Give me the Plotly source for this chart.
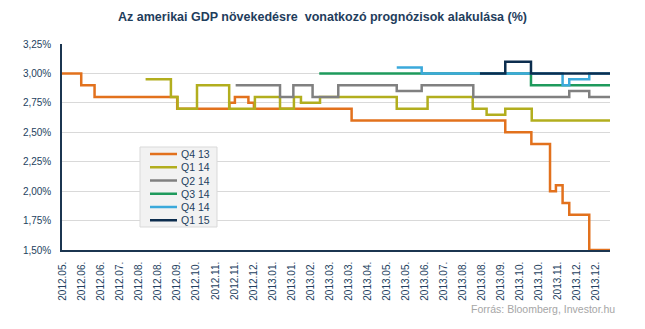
import plotly.graph_objects as go

# ---------------- data ----------------
tick_labels = ["2012.05.", "2012.06.", "2012.06.", "2012.07.", "2012.08.", "2012.08.",
               "2012.09.", "2012.10.", "2012.11.", "2012.11.", "2012.12.", "2013.01.",
               "2013.01.", "2013.02.", "2013.03.", "2013.03.", "2013.04.", "2013.05.",
               "2013.05.", "2013.06.", "2013.07.", "2013.08.", "2013.08.", "2013.09.",
               "2013.10.", "2013.10.", "2013.11.", "2013.12.", "2013.12."]

y_ticks = [1.50, 1.75, 2.00, 2.25, 2.50, 2.75, 3.00, 3.25]
y_tick_labels = ["1,50%", "1,75%", "2,00%", "2,25%", "2,50%", "2,75%", "3,00%", "3,25%"]

x_end = 28.73

# step change points (x in tick-index units) and forecast values (%)
q4_13_x = [-0.05, 0.96, 1.66, 6.00, 8.74, 9.03, 9.74, 10.03, 15.16, 23.23, 24.60,
           25.58, 25.89, 26.24, 26.59, 27.64, x_end]
q4_13_y = [3.00, 2.90, 2.80, 2.70, 2.75, 2.80, 2.75, 2.70, 2.60, 2.50, 2.40,
           2.00, 2.05, 1.90, 1.80, 1.50, 1.50]

q1_14_x = [4.34, 5.67, 6.02, 7.04, 8.73, 10.08, 11.40, 12.13, 12.50, 13.50, 17.53,
           19.15, 21.52, 22.25, 23.23, 24.62, x_end]
q1_14_y = [2.95, 2.80, 2.70, 2.90, 2.70, 2.80, 2.70, 2.80, 2.75, 2.80, 2.70,
           2.80, 2.70, 2.65, 2.70, 2.60, 2.60]

q2_14_x = [9.07, 11.40, 12.10, 13.11, 14.46, 17.53, 18.84, 21.55, 26.59, 27.64, x_end]
q2_14_y = [2.90, 2.80, 2.90, 2.80, 2.90, 2.85, 2.90, 2.80, 2.85, 2.80, 2.80]

q3_14_x = [13.46, 24.58, x_end]
q3_14_y = [3.00, 2.90, 2.90]

q4_14_x = [17.53, 18.84, 26.24, 26.59, 27.64, x_end]
q4_14_y = [3.05, 3.00, 2.90, 2.95, 3.00, 3.00]

q1_15_x = [21.90, 23.23, 24.58, x_end]
q1_15_y = [3.00, 3.10, 3.00, 3.00]

series_names = ["Q4 13", "Q1 14", "Q2 14", "Q3 14", "Q4 14", "Q1 15"]
series_x = [q4_13_x, q1_14_x, q2_14_x, q3_14_x, q4_14_x, q1_15_x]
series_y = [q4_13_y, q1_14_y, q2_14_y, q3_14_y, q4_14_y, q1_15_y]
series_colors = ["#E2711D", "#B2AE1E", "#808080", "#1E9A5C", "#3BA9DB", "#0C2D4E"]

title_text = "Az amerikai GDP növekedésre  vonatkozó prognózisok alakulása (%)"
source_text = "Forrás: Bloomberg, Investor.hu"

# ---------------- layout constants ----------------
W, H = 645, 329
ML, MR, MT, MB = 62, 35, 44, 79
PW, PH = W - ML - MR, H - MT - MB
TEXT_COL = "#243F60"
FONT = "Liberation Sans"


def px_x(p):
    return (p - ML) / PW


def px_y(p):
    return (H - MB - p) / PH


fig = go.Figure()
for name, xs, ys, col in zip(series_names, series_x, series_y, series_colors):
    fig.add_trace(go.Scatter(x=xs, y=ys, mode="lines", name=name,
                             line=dict(color=col, width=2.5, shape="hv"),
                             showlegend=False))

# custom compact legend
shapes = []
annotations = []
lg_left, lg_right, lg_top, lg_bottom = 140, 217, 147, 227
shapes.append(dict(type="rect", xref="paper", yref="paper",
                   x0=px_x(lg_left), x1=px_x(lg_right), y0=px_y(lg_bottom), y1=px_y(lg_top),
                   fillcolor="#F2F2F2", line=dict(color="#D9D9D9", width=1), layer="above"))
row0, row_step = 154, 13.25
for i, (name, col) in enumerate(zip(series_names, series_colors)):
    yy = px_y(row0 + i * row_step)
    shapes.append(dict(type="line", xref="paper", yref="paper",
                       x0=px_x(150), x1=px_x(177), y0=yy, y1=yy,
                       line=dict(color=col, width=2.5), layer="above"))
    annotations.append(dict(xref="paper", yref="paper", x=px_x(179), y=yy,
                            xanchor="left", yanchor="middle", text=name, showarrow=False,
                            font=dict(family=FONT, size=10.5, color=TEXT_COL)))

annotations.append(dict(xref="paper", yref="paper", x=px_x(617), y=px_y(309),
                        xanchor="right", yanchor="middle", text=source_text, showarrow=False,
                        font=dict(family=FONT, size=10.5, color="#A6A6A6")))

fig.update_layout(
    width=W, height=H,
    margin=dict(l=ML, r=MR, t=MT, b=MB),
    paper_bgcolor="white", plot_bgcolor="white",
    title=dict(text=title_text, x=0.5, xanchor="center", y=1 - 17 / H, yanchor="middle",
               font=dict(family=FONT, size=12.5, color="#1F3D5C", weight="bold")),
    shapes=shapes, annotations=annotations,
    xaxis=dict(range=[-0.05, x_end], tickmode="array",
               tickvals=list(range(len(tick_labels))), ticktext=tick_labels,
               tickangle=-90, showgrid=False, zeroline=False,
               showline=True, linecolor="#1B3550", linewidth=1.5,
               ticks="", ticklabelstandoff=6,
               tickfont=dict(family=FONT, size=10, color=TEXT_COL)),
    yaxis=dict(range=[1.5, 3.25], tickmode="array", tickvals=y_ticks, ticktext=y_tick_labels,
               showgrid=True, gridcolor="#D9D9D9", gridwidth=1, zeroline=False,
               showline=True, linecolor="#1B3550", linewidth=1.5,
               ticks="", ticklabelstandoff=7,
               tickfont=dict(family=FONT, size=10, color=TEXT_COL)),
)

fig.write_html("out.html")
